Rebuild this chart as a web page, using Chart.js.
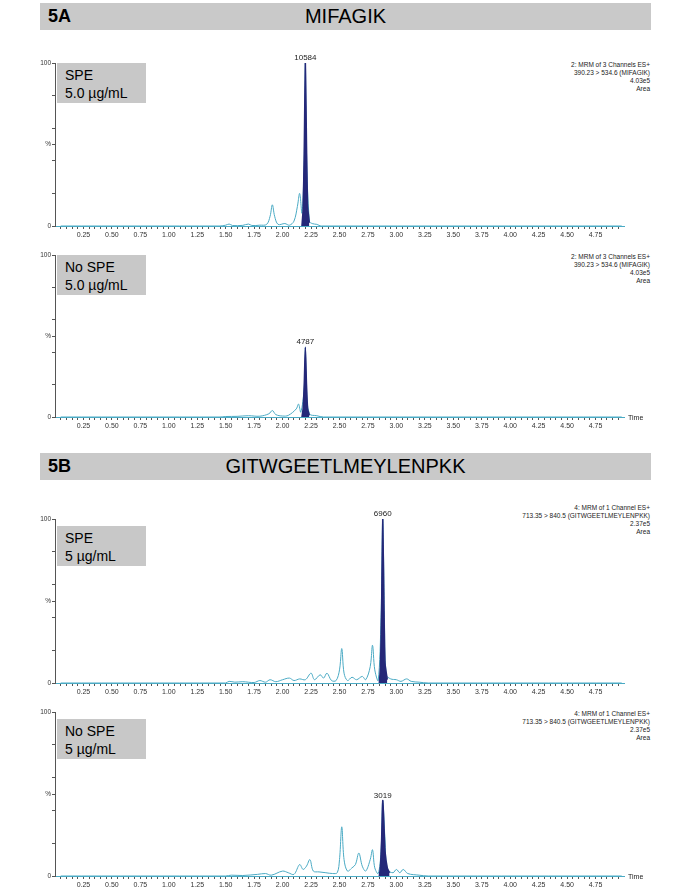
<!DOCTYPE html>
<html>
<head>
<meta charset="utf-8">
<script src="https://cdn.jsdelivr.net/npm/chart.js@4.4.0/dist/chart.umd.min.js"></script>
<style>
    body { margin: 0; width: 684px; height: 892px; background: #fff; position: relative; font-family: "Liberation Sans", Arial, sans-serif; overflow: hidden; }
    .hdr { position: absolute; left: 40px; width: 611px; height: 27px; background: #c9c9c9; }
    .hdr .id { position: absolute; left: 8px; top: 3px; font-size: 18px; font-weight: bold; font-family: "Liberation Sans Narrow", "Liberation Sans", sans-serif; }
    .hdr .title { position: absolute; left: 0; right: 0; top: 2px; text-align: center; font-size: 20px; font-family: "Liberation Sans Narrow", "Liberation Sans", sans-serif; }
    .box { position: absolute; left: 57px; width: 89px; height: 40px; background: #c8c8c8; font-size: 14px; line-height: 18px; padding: 3px 0 0 8px; box-sizing: border-box; }
    .info { position: absolute; right: 34px; text-align: right; font-size: 6.5px; line-height: 8px; color: #222; }
    canvas.p { position: absolute; left: 0; }
</style>
</head>
<body>
<div class="hdr" style="top:3px"><span class="id">5A</span><div class="title">MIFAGIK</div></div>
<div class="hdr" style="top:453px"><span class="id">5B</span><div class="title">GITWGEETLMEYLENPKK</div></div>

<div class="box" style="top:63px">SPE<br>5.0 µg/mL</div>
<div class="box" style="top:255px">No SPE<br>5.0 µg/mL</div>
<div class="box" style="top:526px">SPE<br>5 µg/mL</div>
<div class="box" style="top:719px">No SPE<br>5 µg/mL</div>

<div class="info" style="top:61px">2: MRM of 3 Channels ES+<br>390.23 &gt; 534.6 (MIFAGIK)<br>4.03e5<br>Area</div>
<div class="info" style="top:253px">2: MRM of 3 Channels ES+<br>390.23 &gt; 534.6 (MIFAGIK)<br>4.03e5<br>Area</div>
<div class="info" style="top:504px">4: MRM of 1 Channel ES+<br>713.35 &gt; 840.5 (GITWGEETLMEYLENPKK)<br>2.37e5<br>Area</div>
<div class="info" style="top:710px">4: MRM of 1 Channel ES+<br>713.35 &gt; 840.5 (GITWGEETLMEYLENPKK)<br>2.37e5<br>Area</div>

<canvas class="p" id="c1"></canvas>
<canvas class="p" id="c2"></canvas>
<canvas class="p" id="c3"></canvas>
<canvas class="p" id="c4"></canvas>

<script>
// retention times (min) and relative intensity (%) of each trace
const spe5aTimes = [0.05,1.45,1.50,1.53,1.56,1.65,1.70,1.73,1.80,1.86,1.89,1.91,1.93,1.96,2.02,2.06,2.10,2.13,2.15,2.17,2.19,2.20,2.21,2.235,2.26,2.30,2.34,4.98];
const spe5aValues = [0,0,0.5,1.2,0.3,0.4,1.2,0.3,0.5,1,6,13,6,1,1.5,0.5,3,12,20,8,40,100,45,3,1.5,1,0,0];
const spe5aPeakTimes = [2.17,2.18,2.19,2.20,2.21,2.22,2.235];
const spe5aPeakValues = [0,10,45,100,50,12,2];

const noSpe5aTimes = [0.05,1.45,1.50,1.60,1.70,1.80,1.88,1.91,1.94,2.00,2.05,2.12,2.14,2.16,2.19,2.20,2.21,2.235,2.30,2.36,4.98];
const noSpe5aValues = [0,0,0.3,0.4,0.8,0.5,2,4,1.5,0.6,1,5,8,3,18,43,18,2,0.8,0,0];
const noSpe5aPeakTimes = [2.17,2.18,2.19,2.20,2.21,2.22,2.235];
const noSpe5aPeakValues = [0,5,20,43,20,5,1];

const spe5bTimes = [0.05,1.45,1.50,1.53,1.58,1.65,1.75,1.80,1.85,1.89,1.94,2.00,2.06,2.10,2.15,2.20,2.25,2.28,2.33,2.36,2.39,2.43,2.47,2.50,2.52,2.54,2.57,2.61,2.65,2.70,2.73,2.77,2.79,2.81,2.84,2.865,2.88,2.895,2.91,2.95,3.00,3.04,3.09,3.13,3.20,3.28,4.98];
const spe5bValues = [0,0,0,1,0.5,0.8,0.3,1.5,0.5,2,0.8,2,3,1.5,2.5,2,6,2,5,3,6,1.5,1.5,8,21,6,1.5,3.5,2,4,2,10,23,8,1.5,40,100,40,5,2.5,2,1,2.5,1,0.5,0,0];
const spe5bPeakTimes = [2.85,2.86,2.87,2.88,2.89,2.90,2.92];
const spe5bPeakValues = [0,10,45,100,50,12,2];

const noSpe5bTimes = [0.05,1.45,1.50,1.55,1.65,1.78,1.85,1.90,2.00,2.05,2.10,2.15,2.18,2.21,2.24,2.27,2.32,2.38,2.44,2.48,2.50,2.52,2.54,2.57,2.61,2.64,2.67,2.70,2.73,2.77,2.79,2.81,2.84,2.865,2.88,2.90,2.92,2.97,3.00,3.03,3.06,3.10,3.20,3.28,4.98];
const noSpe5bValues = [0,0,0,0.5,0.3,1,1.5,0.5,3,2,1,7,4,6,10,3,2.5,2,1.5,2,10,30,10,3,5,7,14,6,3,10,16,5,1.5,15,46,22,4,2,4,2,4,1.5,0.5,0,0];
const noSpe5bPeakTimes = [2.85,2.86,2.87,2.88,2.89,2.90,2.92,2.94];
const noSpe5bPeakValues = [0,6,22,46,32,15,5,2];

const xTickValues = [0.25,0.50,0.75,1.00,1.25,1.50,1.75,2.00,2.25,2.50,2.75,3.00,3.25,3.50,3.75,4.00,4.25,4.50,4.75];

const TraceColor = '#4aaac4';
const PeakColor = '#252879';

function ToPoints(times, values)
{
    return times.map((t, i) => ({ x: t, y: values[i] }));
}

const peakLabelPlugin = {
    id: 'peakLabel',
    afterDatasetsDraw(chart, args, options) {
        const meta = chart.getDatasetMeta(1);
        const data = chart.data.datasets[1].data;
        let best = 0;
        data.forEach((p, i) => { if (p.y > data[best].y) best = i; });
        const pt = meta.data[best];
        const ctx = chart.ctx;
        ctx.save();
        ctx.font = '8px "Liberation Sans", Arial';
        ctx.fillStyle = '#222';
        ctx.textAlign = 'center';
        ctx.fillText(options.text, pt.x, pt.y - 3);
        if (options.showTime) {
            ctx.textAlign = 'left';
            ctx.font = '7px "Liberation Sans", Arial';
            ctx.fillText('Time', chart.chartArea.right + 4, chart.chartArea.bottom + 3);
        }
        ctx.restore();
    }
};

// minor tick positions every 0.05 min, labels only on the 0.25 steps
const minorTicks = [];
for (let i = 1; i < 100; i++) minorTicks.push(Math.round(i * 5) / 100);

function DrawPanel(canvasId, y100, y0, times, values, peakTimes, peakValues, label, showTime)
{
    const canvas = document.getElementById(canvasId);
    canvas.width = 684;
    canvas.height = y0 - y100 + 30;
    canvas.style.top = (y100 - 10) + 'px';

    new Chart(canvas,
    {
        type: 'line',
        data:
        {
            datasets: [
                { data: ToPoints(times, values), order: 1, borderColor: TraceColor, borderWidth: 1, pointRadius: 0, tension: 0.35, fill: false },
                { data: ToPoints(peakTimes, peakValues), order: 0, borderColor: PeakColor, backgroundColor: PeakColor, borderWidth: 1.5, pointRadius: 0, tension: 0.2, fill: 'origin' }
            ]
        },
        options:
        {
            responsive: false,
            animation: false,
            layout: { padding: { top: 10, right: 60, left: 0, bottom: 0 } },
            plugins: { legend: { display: false }, tooltip: { enabled: false }, peakLabel: { text: label, showTime: showTime } },
            scales:
            {
                x:
                {
                    type: 'linear', min: 0, max: 5.0,
                    afterBuildTicks: (scale) => { scale.ticks = minorTicks.map(v => ({ value: v })); },
                    afterFit: (scale) => { scale.height = 20; },
                    grid: { drawOnChartArea: false, drawTicks: true, tickLength: 3, color: '#555' },
                    border: { color: '#4aaac4' },
                    ticks: { font: { size: 7 }, color: '#333', maxRotation: 0, autoSkip: false, padding: 2,
                        callback: (v) => xTickValues.some(t => Math.abs(t - v) < 1e-6) ? v.toFixed(2) : '' }
                },
                y:
                {
                    min: 0, max: 100,
                    afterBuildTicks: (scale) => { scale.ticks = [0, 20, 40, 50, 60, 80, 100].map(v => ({ value: v })); },
                    afterFit: (scale) => { scale.width = 55; },
                    grid: { drawOnChartArea: false, drawTicks: true, tickLength: 3, color: '#555' },
                    border: { color: '#555' },
                    ticks: { font: { size: 6.5 }, color: '#333', padding: 1, callback: (v) => v === 100 ? '100' : v === 0 ? '0' : v === 50 ? '%' : '' }
                }
            }
        },
        plugins: [peakLabelPlugin]
    });
}

DrawPanel('c1', 63, 226, spe5aTimes, spe5aValues, spe5aPeakTimes, spe5aPeakValues, '10584', false);
DrawPanel('c2', 255, 417, noSpe5aTimes, noSpe5aValues, noSpe5aPeakTimes, noSpe5aPeakValues, '4787', true);
DrawPanel('c3', 519, 683, spe5bTimes, spe5bValues, spe5bPeakTimes, spe5bPeakValues, '6960', false);
DrawPanel('c4', 712, 876, noSpe5bTimes, noSpe5bValues, noSpe5bPeakTimes, noSpe5bPeakValues, '3019', true);
</script>
</body>
</html>
